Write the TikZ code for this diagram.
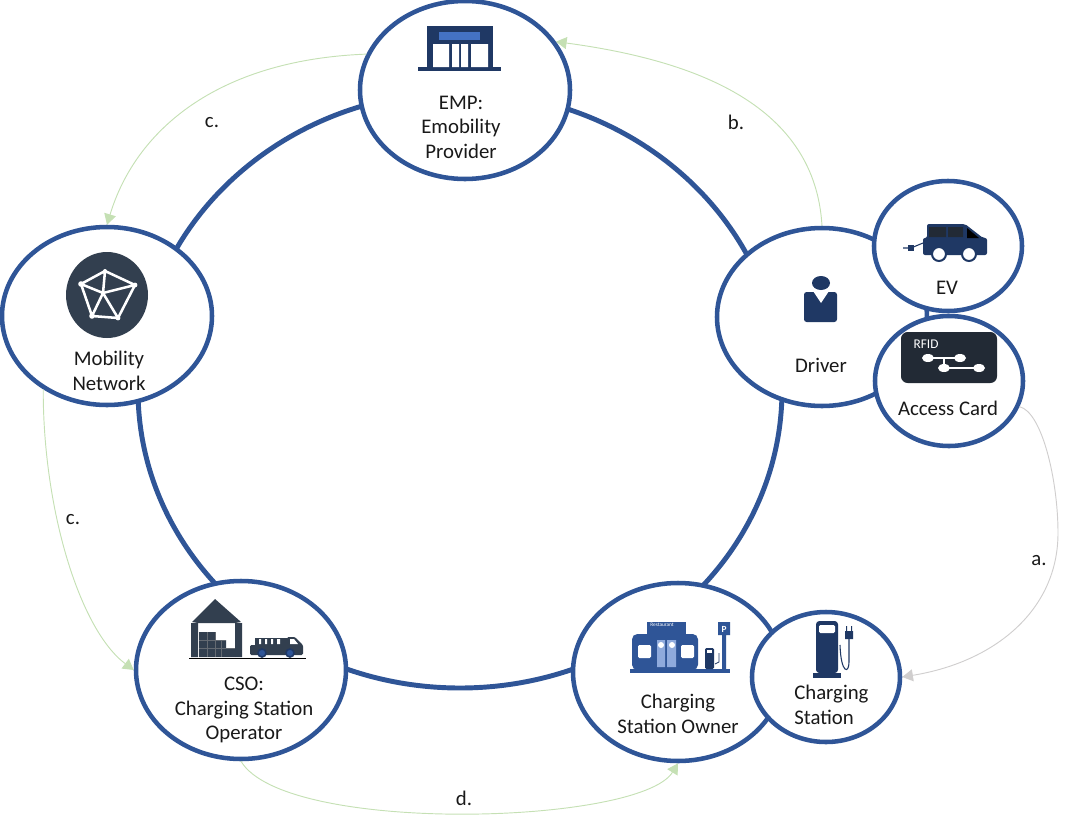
\documentclass[tikz,border=0pt]{standalone}
\usepackage{fontspec}
\setmainfont{Carlito}
\usetikzlibrary{arrows.meta, positioning, shapes.geometric}
\definecolor{ringblue}{HTML}{2F5597}
\definecolor{navyicon}{HTML}{1F3864}
\definecolor{slateicon}{HTML}{323F4F}
\definecolor{cardblack}{HTML}{222A35}
\definecolor{midblue}{HTML}{4472C4}
\definecolor{paleblue}{HTML}{8FAADC}
\definecolor{flowgreen}{HTML}{C5E0B4}
\definecolor{flowgray}{HTML}{D0CECE}

\begin{document}
\begin{tikzpicture}[x=0.75pt,y=-0.75pt,>={Triangle[length=8pt,width=9pt]},
bigrole/.style={ellipse,draw=ringblue,fill=white,line width=3.4pt,inner sep=0pt,minimum width=157.5pt,minimum height=133.5pt},
smallrole/.style={ellipse,draw=ringblue,fill=white,line width=3.4pt,inner sep=0pt,minimum width=111pt,minimum height=97.5pt},
rolelabel/.style={font=\fontsize{15.6}{18.4}\selectfont,align=center,text=black!90,inner sep=0pt},
greenflow/.style={->,draw=flowgreen,fill=none,line width=0.7pt},
grayflow/.style={->,draw=flowgray,fill=none,line width=0.7pt},
]
\useasboundingbox (0,0) rectangle (1068,825);
\node[ellipse,draw=ringblue,line width=3.7pt,inner sep=0pt,minimum width=483pt,minimum height=447pt] (nRing) at (460,390) {};

\node[bigrole] (nEMP) at (465,90) {};
\node[bigrole] (nMobility) at (107,316) {};
\node[bigrole] (nCSO) at (241,670) {};
\node[bigrole] (nOwner) at (678,672) {};
\node[smallrole] (nStation) at (826,677) {};
\node[bigrole] (nDriver) at (822,317) {};
\node[smallrole] (nEV) at (948,246) {};
\node[smallrole] (nCard) at (949,381) {};

\node[rolelabel] (lEMP) at (461,127) {EMP:\\Emobility\\Provider};
\node[rolelabel] (lMobility) at (109,371) {Mobility\\Network};
\node[rolelabel] (lCSO) at (244,710) {CSO:\\Charging Station\\Operator};
\node[rolelabel] (lOwner) at (678,714) {Charging\\Station Owner};
\node[rolelabel,align=left,anchor=west] (lStation) at (794,705) {Charging\\Station};
\node[rolelabel] (lDriver) at (821,365) {Driver};
\node[rolelabel] (lEV) at (947,288) {EV};
\node[rolelabel] (lCard) at (948,408) {Access Card};

\node[rolelabel] (la) at (1039,561) {a.};
\node[rolelabel] (lb) at (736,122) {b.};
\node[rolelabel] (lcTop) at (212,123) {c.};
\node[rolelabel] (lcLeft) at (73,520) {c.};
\node[rolelabel] (ld) at (464,798) {d.};

\draw[greenflow] (nDriver.90) .. controls (815,107) and (700,61) .. (nEMP.28);
\draw[greenflow] (nEMP.160) .. controls (215,60) and (135,132) .. (nMobility.90);
\draw[greenflow] (nMobility.229) .. controls (43,510) and (80,630) .. (nCSO.180);
\draw[greenflow] (nCSO.270) .. controls (285,835) and (640,825) .. (nOwner.270);
\coordinate (aTurn) at (1058,533);
\draw[grayflow] (nCard.-20) .. controls (1042,412) and (1058,480) .. (aTurn) .. controls (1058,610) and (995,662) .. (nStation.0);

% store
\fill[navyicon] (427,26) rectangle (493,67);
\fill[navyicon] (418,67) rectangle (501,71);
\fill[midblue] (439,32) rectangle (480,40);
\fill[white] (433,44) rectangle (449,67) (452,44) rectangle (459,67) (461,44) rectangle (468,67) (471,44) rectangle (488,67);
% driver
\fill[navyicon] (821,283) ellipse (9 and 7);
\fill[navyicon,rounded corners=2pt] (804,292) rectangle (837,322);
\fill[white] (813,291) -- (821,303) -- (829,291) -- cycle;
% car
\fill[navyicon,rounded corners=1.5pt] (927,238) -- (927,224) -- (965,224) -- (983,238) -- (987,238) -- (987,255) -- (923,255) -- (923,238) -- cycle;
\fill[cardblack] (929,227) rectangle (946,237) (948,227) rectangle (963,237);
\fill[black] (967,228) -- (979,238) -- (967,238) -- cycle;
\draw[navyicon,fill=white,line width=1.5pt] (939,254) circle (7) (969,254) circle (7);
\draw[navyicon,line width=0.8pt] (903,248) -- (911,248) -- (923,243);
\fill[navyicon] (908,245) rectangle (914,251);
% card
\fill[cardblack,rounded corners=5pt] (901,332) rectangle (997,383);
\node[text=white,font=\fontsize{10}{11}\selectfont,inner sep=0pt] (lRFID) at (926,344) {RFID};
\draw[white,line width=0.8pt] (928,358) -- (960,358) (944,358) -- (944,368) -- (979,368);
\fill[white] (928,358) ellipse (6 and 4) (960,358) ellipse (6 and 4) (944,368) ellipse (6 and 4) (979,368) ellipse (6 and 4);
% charger
\fill[navyicon,rounded corners=2.5pt] (816,673) -- (816,621) -- (838,621) -- (838,673) -- cycle;
\fill[white,rounded corners=1pt] (819,625) rectangle (835,633);
\fill[navyicon] (813,673) rectangle (841,678);
\fill[navyicon] (845,631) rectangle (853,639) (846,626) rectangle (847,631) (851,626) rectangle (852,631);
\draw[navyicon,line width=0.8pt] (849,639) -- (849,662) .. controls (849,674) and (841,674) .. (840,645);
% owner building
\fill[ringblue] (630,669) rectangle (730,673);
\fill[ringblue,rounded corners=4pt] (632,670) -- (632,634) -- (698,634) -- (698,670) -- cycle;
\fill[ringblue] (647,622) rectangle (686,636);
\node[text=white,font=\fontsize{4}{5}\selectfont,inner sep=0pt] (lRest) at (662,625) {Restaurant};
\fill[white,rounded corners=1pt] (638,645) rectangle (651,658) (681,645) rectangle (694,658);
\fill[paleblue] (657,640) rectangle (665,667) (667,640) rectangle (676,667);
\fill[white] (661,645) circle (3) (672,645) circle (3);
\fill[navyicon,rounded corners=1pt] (705,669) -- (705,648) -- (714,648) -- (714,669) -- cycle;
\fill[white] (707,650) rectangle (712,653);
\draw[navyicon,line width=0.6pt] (719,653) -- (719,662) -- (715,664);
\fill[ringblue] (718,622) rectangle (730,635) (722,635) rectangle (726,669);
\node[text=white,font=\fontsize{7}{8}\bfseries\selectfont,inner sep=0pt] (lPark) at (724,629) {P};
% warehouse and truck
\fill[slateicon] (192,622) -- (215,599) -- (241,622) -- (235,623) -- (198,623) -- cycle;
\fill[slateicon] (191,623) rectangle (198,657) (235,623) rectangle (242,657);
\fill[slateicon] (199,632) rectangle (215,657) (215,640) rectangle (226,657) (226,648) rectangle (235,657);
\draw[cardblack!70,line width=0.5pt] (199,640) -- (226,640) (199,648) -- (235,648) (207,632) -- (207,657) (215,632) -- (215,657) (221,640) -- (221,657);
\draw[black,line width=0.6pt] (189,658) -- (306,658);
\fill[slateicon,rounded corners=1pt] (250,645) -- (287,645) -- (287,637) -- (295,637) -- (303,645) -- (303,655) -- (250,655) -- cycle;
\fill[slateicon] (255,638) rectangle (287,645);
\fill[white] (259,639) rectangle (261,644) (265,639) rectangle (267,644) (271,639) rectangle (273,644) (277,639) rectangle (280,644);
\fill[white] (290,639) -- (294,639) -- (298,644) -- (290,644) -- cycle;
\draw[navyicon,fill=ringblue,line width=1.2pt] (262,653) circle (4) (290,653) circle (4);
% network
\fill[slateicon] (107,295) ellipse (41 and 43);
\draw[white,line width=1.9pt,line join=round] (105,271) -- (81,284) -- (92,316) -- (118,318) -- (135,285) -- cycle (103,293) -- (105,271) (103,293) -- (81,284) (103,293) -- (92,316) (103,293) -- (118,318) (103,293) -- (135,285);
\fill[white] (105,271) circle (2) (81,284) circle (2.8) (92,316) circle (2.8) (118,318) circle (2.4) (135,285) circle (2.4) (103,293) circle (1.6);
\end{tikzpicture}
\end{document}
